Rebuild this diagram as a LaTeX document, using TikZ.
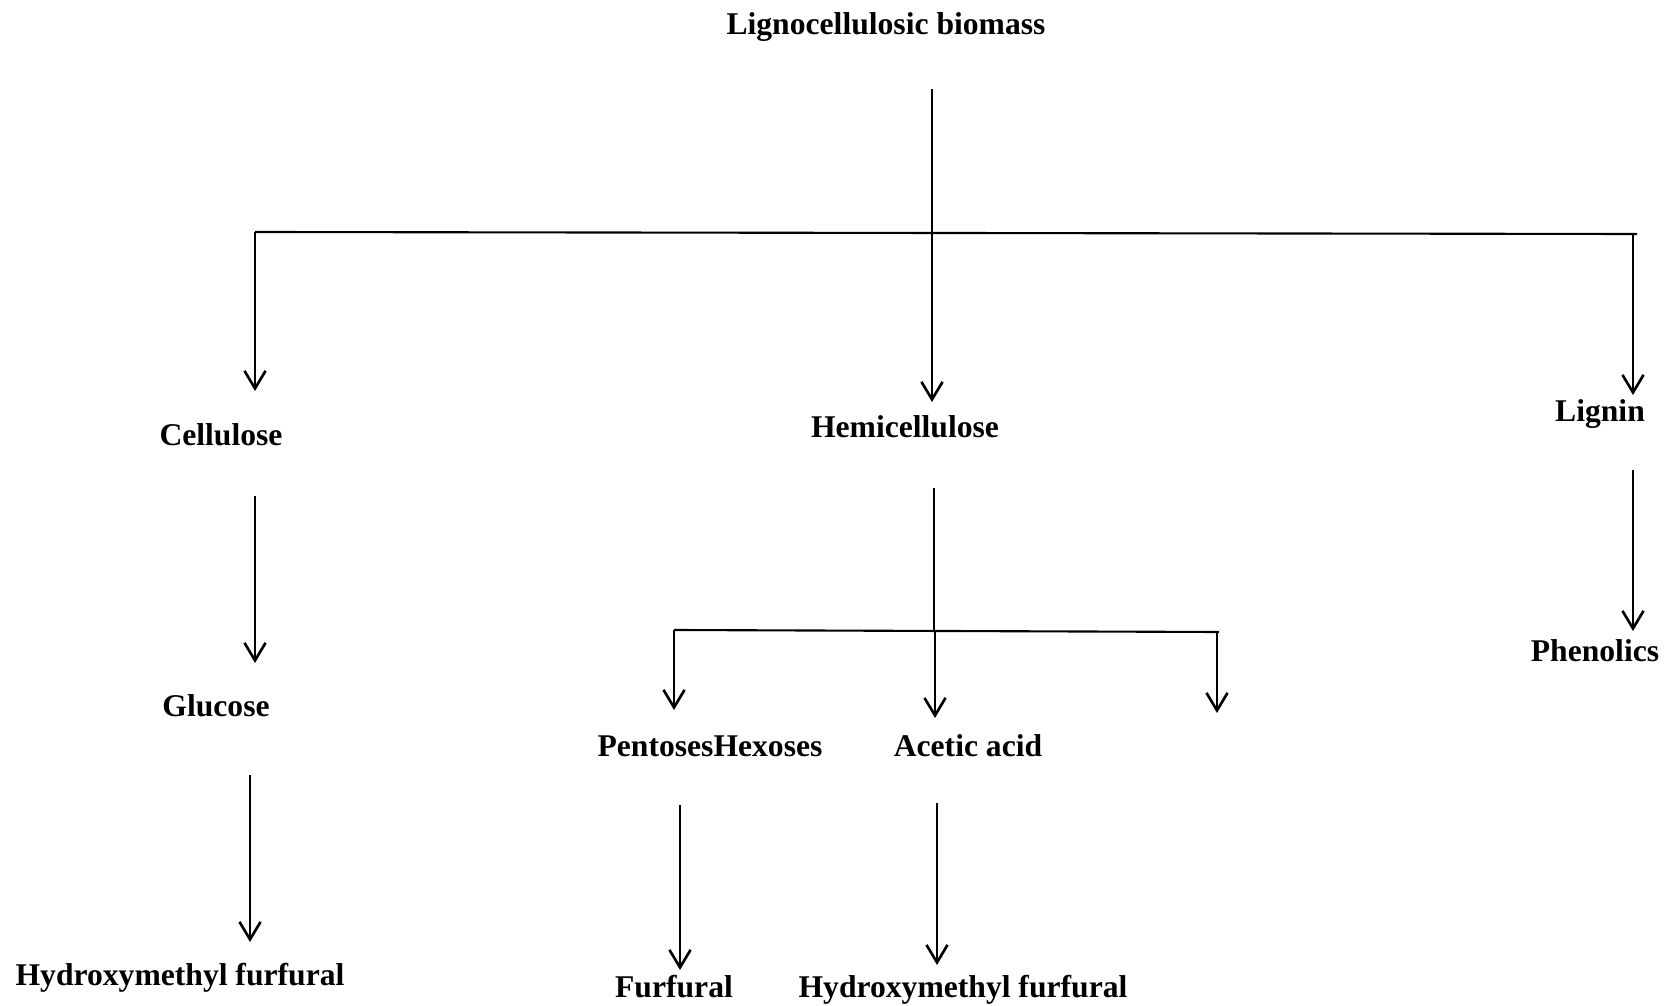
\documentclass[tikz,border=0pt]{standalone}
\usepackage{fontspec}
\setmainfont{Liberation Serif}
\usetikzlibrary{arrows.meta}

\begin{document}
\begin{tikzpicture}[x=0.02cm,y=-0.02cm,
    lbl/.style={font=\bfseries\fontsize{18}{22}\selectfont,anchor=base,inner sep=0pt},
    arr/.style={-{Straight Barb[length=10pt,width=12pt]},line width=1.5pt},
    bar/.style={line width=1.2pt}]
  \useasboundingbox (0,0) rectangle (1667,1006);
  % labels
  \node[lbl] (bio) at (886,35){Lignocellulosic biomass};
  \node[lbl] (cell) at (221,446){Cellulose};
  \node[lbl] (hemi) at (905,438){Hemicellulose};
  \node[lbl] (lig) at (1600,422){Lignin};
  \node[lbl] (gluc) at (216,716){Glucose};
  \node[lbl] (pent) at (710,756){PentosesHexoses};
  \node[lbl] (acet) at (968,756){Acetic acid};
  \node[lbl] (phen) at (1595,662){Phenolics};
  \node[lbl] (hmfA) at (180,985){Hydroxymethyl furfural};
  \node[lbl] (furf) at (674,997){Furfural};
  \node[lbl] (hmfB) at (963,997){Hydroxymethyl furfural};
  % main split
  \coordinate (t0) at (932,89); \coordinate (t1) at (932,233);
  \coordinate (hl) at (255,232); \coordinate (hr) at (1637,234);
  \coordinate (rb) at (1633,234);
  \coordinate (cellin) at (255,391); \coordinate (hemiin) at (932,402);
  \coordinate (ligin) at (1633,395);
  \draw[line width=0.8pt] (t0) -- (t1);
  \draw[bar] (hl) -- (hr);
  \draw[arr] (hl) -- (cellin);
  \draw[arr] (t1) -- (hemiin);
  \draw[arr] (rb) -- (ligin);
  % cellulose
  \coordinate (c1) at (255,496); \coordinate (c2) at (255,663);
  \coordinate (c3) at (250,775); \coordinate (c4) at (250,942);
  \draw[arr] (c1) -- (c2);
  \draw[arr] (c3) -- (c4);
  % hemicellulose
  \coordinate (h0) at (934,488); \coordinate (h1) at (934,631);
  \coordinate (sl) at (674,630); \coordinate (sr) at (1219,632);
  \coordinate (sm) at (935,631); \coordinate (s3) at (1217,632);
  \coordinate (pentin) at (674,710); \coordinate (acetin) at (935,718);
  \coordinate (s3in) at (1217,713);
  \draw[bar] (h0) -- (h1);
  \draw[bar] (sl) -- (sr);
  \draw[arr] (sl) -- (pentin);
  \draw[arr] (sm) -- (acetin);
  \draw[arr] (s3) -- (s3in);
  \coordinate (p1) at (680,805); \coordinate (p2) at (680,970);
  \coordinate (a1) at (937,803); \coordinate (a2) at (937,965);
  \draw[arr] (p1) -- (p2);
  \draw[arr] (a1) -- (a2);
  % lignin
  \coordinate (l1) at (1633,470); \coordinate (l2) at (1633,631);
  \draw[arr] (l1) -- (l2);
\end{tikzpicture}
\end{document}
